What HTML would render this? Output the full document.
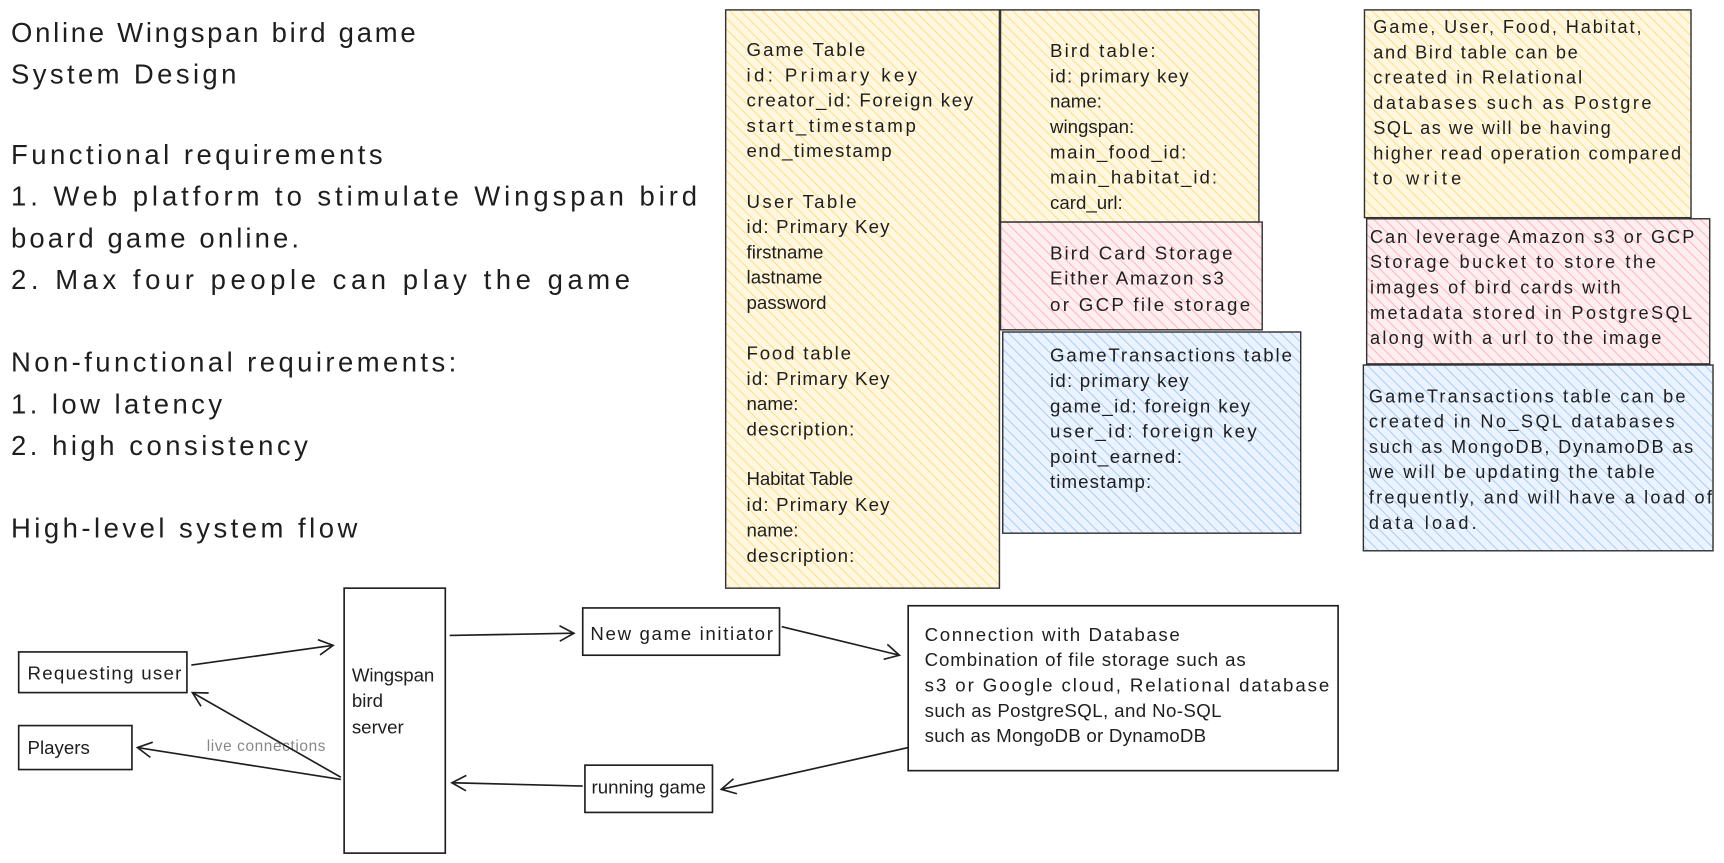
<!DOCTYPE html>
<html><head><meta charset="utf-8"><style>
html,body{margin:0;padding:0;background:#fff;overflow:hidden;width:1724px;height:863px}
svg{display:block;position:absolute;left:0;top:0}
text{font-family:"Liberation Sans",sans-serif;fill:#1e1e1e}
.t{font-size:25px}
.s{font-size:17px}
.g{font-size:16.5px;fill:#666}
</style></head><body>
<svg width="1724" height="863" viewBox="0 0 1568 785" preserveAspectRatio="none" xmlns="http://www.w3.org/2000/svg">
<defs>
<pattern id="hy" width="7" height="7" patternUnits="userSpaceOnUse" patternTransform="rotate(-45)"><rect width="7" height="7" fill="#fff7e0"/><line x1="0" y1="0" x2="0" y2="7" stroke="#ffd87a" stroke-width="1.5"/></pattern>
<pattern id="hp" width="7" height="7" patternUnits="userSpaceOnUse" patternTransform="rotate(-45)"><rect width="7" height="7" fill="#ffeef0"/><line x1="0" y1="0" x2="0" y2="7" stroke="#ffaab4" stroke-width="1.5"/></pattern>
<pattern id="hb" width="7" height="7" patternUnits="userSpaceOnUse" patternTransform="rotate(-45)"><rect width="7" height="7" fill="#eaf3ff"/><line x1="0" y1="0" x2="0" y2="7" stroke="#9cc6ef" stroke-width="1.5"/></pattern>
<marker id="a" markerWidth="16" markerHeight="16" refX="14" refY="8" orient="auto" markerUnits="userSpaceOnUse"><path d="M1,1 L14,8 L1,15" fill="none" stroke="#1e1e1e" stroke-width="1.5"/></marker>
</defs>

<g class="t">
<text x="10" y="38" textLength="368">Online Wingspan bird game</text>
<text x="10" y="76" textLength="205">System Design</text>
<text x="10" y="149" textLength="338">Functional requirements</text>
<text x="10" y="187" textLength="624">1. Web platform to stimulate Wingspan bird</text>
<text x="10" y="225" textLength="262">board game online.</text>
<text x="10" y="263" textLength="563">2. Max four people can play the game</text>
<text x="10" y="338" textLength="405">Non-functional requirements:</text>
<text x="10" y="376" textLength="192">1. low latency</text>
<text x="10" y="414" textLength="270">2. high consistency</text>
<text x="10" y="489" textLength="315">High-level system flow</text>
</g>

<rect x="660" y="9" width="249" height="526" fill="url(#hy)" stroke="#333" stroke-width="1.3"/>
<rect x="910" y="9" width="235" height="193" fill="url(#hy)" stroke="#333" stroke-width="1.3"/>
<rect x="910" y="202" width="238" height="98" fill="url(#hp)" stroke="#333" stroke-width="1.3"/>
<rect x="912" y="302" width="271" height="183" fill="url(#hb)" stroke="#333" stroke-width="1.3"/>
<rect x="1241" y="9" width="297" height="189" fill="url(#hy)" stroke="#333" stroke-width="1.3"/>
<rect x="1243" y="199" width="312" height="132" fill="url(#hp)" stroke="#333" stroke-width="1.3"/>
<rect x="1240" y="332" width="318" height="169" fill="url(#hb)" stroke="#333" stroke-width="1.3"/>

<g class="s">
<text x="679" y="51" textLength="108">Game Table</text>
<text x="679" y="74" textLength="155">id: Primary key</text>
<text x="679" y="97" textLength="206">creator_id: Foreign key</text>
<text x="679" y="120" textLength="154">start_timestamp</text>
<text x="679" y="143" textLength="132">end_timestamp</text>
<text x="679" y="189" textLength="100">User Table</text>
<text x="679" y="212" textLength="130">id: Primary Key</text>
<text x="679" y="235">firstname</text>
<text x="679" y="258">lastname</text>
<text x="679" y="281">password</text>
<text x="679" y="327" textLength="95">Food table</text>
<text x="679" y="350" textLength="130">id: Primary Key</text>
<text x="679" y="373">name:</text>
<text x="679" y="396" textLength="98">description:</text>
<text x="679" y="441" textLength="97">Habitat Table</text>
<text x="679" y="465" textLength="130">id: Primary Key</text>
<text x="679" y="488">name:</text>
<text x="679" y="511" textLength="98">description:</text>

<text x="955" y="52" textLength="96">Bird table:</text>
<text x="955" y="75" textLength="126">id: primary key</text>
<text x="955" y="98">name:</text>
<text x="955" y="121">wingspan:</text>
<text x="955" y="144" textLength="124">main_food_id:</text>
<text x="955" y="167" textLength="152">main_habitat_id:</text>
<text x="955" y="190">card_url:</text>

<text x="955" y="236" textLength="166">Bird Card Storage</text>
<text x="955" y="259" textLength="158">Either Amazon s3</text>
<text x="955" y="283" textLength="182">or GCP file storage</text>

<text x="955" y="329" textLength="220">GameTransactions table</text>
<text x="955" y="352" textLength="126">id: primary key</text>
<text x="955" y="375" textLength="182">game_id: foreign key</text>
<text x="955" y="398" textLength="188">user_id: foreign key</text>
<text x="955" y="421" textLength="120">point_earned:</text>
<text x="955" y="444" textLength="92">timestamp:</text>
</g>

<g class="g">
<text x="1249" y="30" textLength="244">Game, User, Food, Habitat,</text>
<text x="1249" y="53" textLength="186">and Bird table can be</text>
<text x="1249" y="76" textLength="190">created in Relational</text>
<text x="1249" y="99" textLength="253">databases such as Postgre</text>
<text x="1249" y="122" textLength="216">SQL as we will be having</text>
<text x="1249" y="145" textLength="280">higher read operation compared</text>
<text x="1249" y="168" textLength="80">to write</text>
<text x="1246" y="221" textLength="295">Can leverage Amazon s3 or GCP</text>
<text x="1246" y="244" textLength="260">Storage bucket to store the</text>
<text x="1246" y="267" textLength="228">images of bird cards with</text>
<text x="1246" y="290" textLength="293">metadata stored in PostgreSQL</text>
<text x="1246" y="313" textLength="265">along with a url to the image</text>
<text x="1245" y="366" textLength="288">GameTransactions table can be</text>
<text x="1245" y="389" textLength="278">created in No_SQL databases</text>
<text x="1245" y="412" textLength="295">such as MongoDB, DynamoDB as</text>
<text x="1245" y="435" textLength="260">we will be updating the table</text>
<text x="1245" y="458" textLength="312">frequently, and will have a load of</text>
<text x="1245" y="481" textLength="98">data load.</text>
</g>

<g fill="#fff" stroke="#1e1e1e" stroke-width="1.5">
<rect x="17" y="593" width="153" height="37"/>
<rect x="17" y="660" width="103" height="40"/>
<rect x="313" y="535" width="92" height="241"/>
<rect x="530" y="553" width="179" height="43"/>
<rect x="532" y="696" width="116" height="43"/>
<rect x="826" y="551" width="391" height="150"/>
</g>
<g class="s">
<text x="25" y="618" textLength="140">Requesting user</text>
<text x="25" y="686">Players</text>
<text x="320" y="620" textLength="75">Wingspan</text>
<text x="320" y="643">bird</text>
<text x="320" y="667">server</text>
<text x="537" y="582" textLength="166">New game initiator</text>
<text x="538" y="722" textLength="104">running game</text>
<text x="841" y="583" textLength="232">Connection with Database</text>
<text x="841" y="606" textLength="292">Combination of file storage such as</text>
<text x="841" y="629" textLength="368">s3 or Google cloud, Relational database</text>
<text x="841" y="652" textLength="270">such as PostgreSQL, and No-SQL</text>
<text x="841" y="675" textLength="256">such as MongoDB or DynamoDB</text>
</g>
<text x="188" y="683" style="font-size:14px;fill:#888" textLength="108">live connections</text>

<g stroke="#1e1e1e" stroke-width="1.5" fill="none" marker-end="url(#a)">
<line x1="174" y1="605" x2="303" y2="587"/>
<line x1="310" y1="707" x2="175" y2="630"/>
<line x1="310" y1="709" x2="125" y2="680"/>
<line x1="409" y1="578" x2="522" y2="576"/>
<line x1="711" y1="570" x2="818" y2="596"/>
<line x1="826" y1="680" x2="656" y2="718"/>
<line x1="530" y1="715" x2="411" y2="712"/>
</g>
</svg>
</body></html>
